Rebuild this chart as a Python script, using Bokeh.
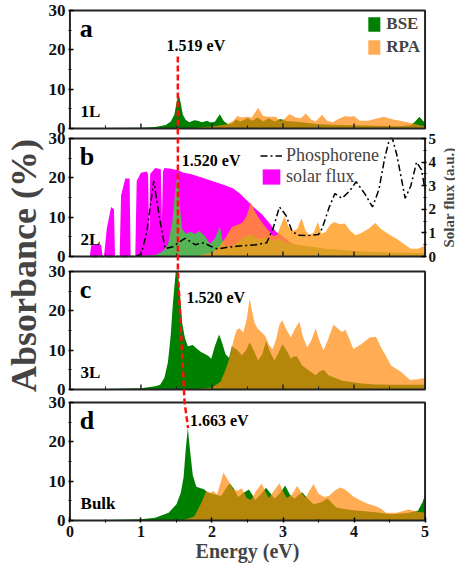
import math
from bokeh.plotting import figure
from bokeh.models import Range1d, LinearAxis, FixedTicker, Legend, LegendItem, Label
from bokeh.embed import file_html
from bokeh.resources import INLINE
from bokeh.core.properties import value

# ---------------- data ----------------
panels = ["a", "b", "c", "d"]
layer_names = ["1L", "2L", "3L", "Bulk"]
peak_energy = [1.519, 1.520, 1.520, 1.663]
peak_labels = ["1.519 eV", "1.520 eV", "1.520 eV", "1.663 eV"]
y_ticks = [0, 10, 20, 30]
y_minor = [5, 15, 25]
x_ticks = [0, 1, 2, 3, 4, 5]
x_minor = [0.5, 1.5, 2.5, 3.5, 4.5]
flux_ticks = [0, 1, 2, 3, 4, 5]
flux_minor = [0.5, 1.5, 2.5, 3.5, 4.5]

# panel a (1L)
bse_a_E = [0, 0.5, 1.0, 1.2, 1.35, 1.42, 1.47, 1.50, 1.53, 1.56, 1.59, 1.63, 1.68, 1.75, 1.8, 1.86, 1.93, 1.98,
           2.04, 2.11, 2.17, 2.23, 2.28, 2.34, 2.4, 2.5, 2.57, 2.64, 2.72, 2.8, 2.88, 2.96, 3.05, 3.15, 3.3, 3.45,
           3.6, 3.8, 4.0, 4.3, 4.6, 4.8, 4.86, 4.92, 4.97, 5.0]
bse_a = [0.1, 0.1, 0.2, 0.4, 0.9, 1.8, 3.5, 6.5, 8.9, 6.5, 3.5, 2.2, 1.6, 2.1, 2.0, 1.6, 2.0, 1.5,
         1.7, 3.6, 1.8, 1.1, 1.3, 2.3, 1.8, 2.6, 2.0, 2.8, 1.8, 2.6, 1.8, 2.4, 1.9, 1.8, 1.5, 1.2,
         1.0, 0.9, 0.8, 0.7, 0.6, 0.8, 1.8, 3.0, 2.0, 1.5]
rpa_a_E = [0, 1.5, 1.8, 2.0, 2.2, 2.3, 2.36, 2.42, 2.5, 2.56, 2.65, 2.72, 2.8, 2.9, 2.96, 3.03, 3.09, 3.18, 3.25,
           3.32, 3.4, 3.46, 3.55, 3.62, 3.7, 3.8, 3.88, 3.95, 4.0, 4.08, 4.2, 4.3, 4.42, 4.55, 4.7, 4.85, 4.92, 5.0]
rpa_a = [0, 0, 0.2, 0.5, 1.0, 2.0, 3.2, 2.8, 3.0, 2.8, 5.3, 3.2, 3.0, 3.0, 1.9, 2.6, 3.7, 2.8, 2.6,
         3.8, 2.2, 1.8, 3.5, 2.0, 1.6, 2.6, 3.2, 3.0, 3.2, 2.0, 2.0, 2.5, 3.0, 2.3, 1.8, 1.2, 0.8, 0.5]

# panel b (2L)
bse_b_E = [0, 1.0, 1.2, 1.3, 1.38, 1.44, 1.48, 1.52, 1.55, 1.58, 1.63, 1.7, 1.76, 1.82, 1.9, 1.97, 2.04, 2.11,
           2.15, 2.2, 2.27, 2.35, 2.45, 2.55, 2.65, 2.75, 2.85, 2.95, 3.05, 3.2, 3.4, 3.6, 3.8, 4.0, 4.5, 5.0]
bse_b = [0, 0.1, 0.4, 1.2, 3.0, 8.5, 16, 22, 12, 7, 5.8, 6.3, 5.7, 6.5, 5.2, 3.2, 4.5, 7.6,
         4.0, 2.3, 2.5, 3.5, 5.0, 5.5, 4.5, 4.8, 4.0, 4.5, 3.5, 3.0, 2.5, 2.0, 1.7, 1.4, 1.0, 0.8]
rpa_b_E = [0, 1.8, 2.0, 2.1, 2.2, 2.28, 2.35, 2.42, 2.48, 2.55, 2.6, 2.66, 2.73, 2.8, 2.86, 2.92, 2.97, 3.02,
           3.08, 3.14, 3.2, 3.26, 3.32, 3.37, 3.43, 3.49, 3.54, 3.6, 3.66, 3.72, 3.8, 3.87, 3.95, 4.02, 4.1,
           4.2, 4.3, 4.38, 4.5, 4.6, 4.7, 4.8, 4.9, 5.0]
rpa_b = [0, 0.1, 1.0, 2.5, 5.0, 7.5, 8.0, 8.5, 10, 13.8, 11.5, 9.8, 8.0, 6.5, 5.2, 5.5, 8.0, 10.2,
         7.5, 6.5, 7.0, 9.7, 6.5, 5.5, 6.0, 8.8, 5.8, 6.2, 8.0, 8.8, 8.2, 8.4, 6.5, 5.4, 6.0,
         7.0, 8.5, 7.0, 5.5, 4.5, 3.2, 2.0, 2.0, 2.8]
flux_E = [0.28, 0.30, 0.44, 0.46, 0.48, 0.52, 0.58, 0.62, 0.635, 0.70, 0.72, 0.78, 0.84, 0.855, 0.92, 0.94,
          1.00, 1.08, 1.10, 1.115, 1.13, 1.20, 1.28, 1.295, 1.31, 1.33, 1.42, 1.52, 1.6, 1.7, 1.8, 1.9,
          2.0, 2.1, 2.2, 2.3, 2.4, 2.5, 2.6, 2.7, 2.8, 2.9, 3.0, 3.1, 3.2, 3.4, 3.7, 4.0, 4.5, 5.0]
flux = [0, 0.48, 0.5, 0, 0, 1.2, 2.1, 2.0, 0, 0, 2.6, 3.3, 3.3, 0, 0, 3.2,
        3.55, 3.6, 3.5, 1.0, 3.5, 3.75, 3.7, 1.5, 3.6, 3.75, 3.72, 3.65, 3.55, 3.5, 3.4, 3.3,
        3.2, 3.1, 3.0, 2.88, 2.65, 2.35, 2.05, 1.8, 1.45, 1.05, 0.85, 0.6, 0.45, 0.3, 0.2, 0.12, 0.08, 0.05]
phos_E = [0.3, 0.9, 1.0, 1.08, 1.18, 1.26, 1.34, 1.45, 1.55, 1.62, 1.7, 1.76, 1.83, 1.89, 1.98, 2.08, 2.2,
          2.35, 2.49, 2.62, 2.77, 2.86, 2.95, 3.04, 3.13, 3.22, 3.35, 3.5, 3.55, 3.65, 3.73, 3.83, 3.93,
          4.03, 4.15, 4.26, 4.35, 4.43, 4.5, 4.54, 4.6, 4.72, 4.8, 4.88, 4.95, 5.0]
phos = [0, 0, 0.5, 6, 19.2, 10, 2, 2.5, 3.8, 4.6, 3.8, 3, 3.3, 3.5, 2.6, 1.9, 2.3,
        2.6, 2.8, 3.0, 3.5, 7.1, 12.6, 10.5, 6.3, 5.4, 5.3, 5.6, 7.1, 12.5, 16, 14.8, 16.5,
        19, 16, 12.6, 17, 24.9, 30, 30, 26, 14.8, 18, 24, 22, 17]

# panel c (3L)
bse_c_E = [0, 0.5, 1.0, 1.2, 1.27, 1.33, 1.38, 1.42, 1.45, 1.49, 1.52, 1.55, 1.58, 1.62, 1.66, 1.73, 1.78,
           1.84, 1.9, 1.95, 1.99, 2.04, 2.1, 2.14, 2.19, 2.24, 2.28, 2.36, 2.42, 2.48, 2.53, 2.6, 2.65, 2.71,
           2.76, 2.82, 2.88, 2.94, 2.99, 3.05, 3.11, 3.15, 3.2, 3.24, 3.27, 3.35, 3.46, 3.51, 3.57, 3.64,
           3.7, 3.84, 4.07, 4.3, 4.6, 5.0]
bse_c = [0.05, 0.1, 0.3, 0.8, 1.2, 3.0, 7.0, 14, 22, 30, 30, 24, 17, 13, 11, 11.3, 10.5,
         9.6, 9.0, 8.5, 7.8, 11, 14, 12, 9.0, 8.0, 11, 10, 8.7, 10, 12, 9.5, 7.4, 9.0,
         12.3, 9.5, 7.4, 9.5, 11.5, 10, 7.8, 8.4, 8.4, 7.0, 6.1, 5.0, 3.6, 4.5, 5.0, 3.6,
         3.2, 2.2, 1.6, 1.3, 1.2, 1.2]
rpa_c_E = [0, 1.8, 2.0, 2.12, 2.18, 2.23, 2.27, 2.31, 2.35, 2.39, 2.44, 2.49, 2.53, 2.57, 2.6, 2.64, 2.7,
           2.75, 2.8, 2.85, 2.9, 2.95, 2.99, 3.04, 3.11, 3.17, 3.23, 3.28, 3.34, 3.4, 3.46, 3.51, 3.57,
           3.63, 3.71, 3.77, 3.83, 3.88, 3.93, 3.99, 4.1, 4.22, 4.31, 4.38, 4.45, 4.52, 4.66, 4.79, 4.9, 5.0]
rpa_c = [0, 0.1, 0.5, 2.0, 4.5, 7.0, 10, 13, 15.2, 15.6, 14.4, 18, 23.1, 19.5, 17, 15.6, 14.5,
         13.6, 11.5, 10.2, 12.5, 16.5, 17.6, 15.5, 13.2, 15.5, 17.3, 13.5, 10.7, 12.5, 15.6, 12.5, 10,
         12.5, 16.5, 15.5, 14.6, 15.2, 13, 10.3, 11.5, 13.2, 13.4, 10.7, 8.5, 6.1, 4.5, 2.4, 2.6, 2.9]

# panel d (Bulk)
bse_d_E = [0, 0.5, 1.0, 1.2, 1.39, 1.5, 1.56, 1.6, 1.63, 1.66, 1.69, 1.73, 1.78, 1.84, 1.88, 1.94, 2.0, 2.07,
           2.13, 2.19, 2.25, 2.31, 2.37, 2.44, 2.52, 2.57, 2.61, 2.68, 2.76, 2.82, 2.88, 2.96, 3.03, 3.1,
           3.16, 3.22, 3.27, 3.35, 3.43, 3.53, 3.63, 3.7, 3.75, 3.9, 4.07, 4.3, 4.53, 4.75, 4.9, 4.96, 5.0]
bse_d = [0.05, 0.1, 0.3, 0.7, 2.0, 4.1, 7.0, 11, 18, 23.5, 18, 11.5, 8.6, 8.2, 8.0, 7.2, 6.8, 6.5,
         6.2, 8.0, 9.5, 8.0, 6.0, 7.0, 7.9, 6.5, 5.2, 6.5, 8.3, 7.0, 5.6, 7.0, 8.9, 6.5,
         5.6, 6.5, 7.2, 5.5, 4.1, 4.6, 5.6, 4.2, 3.3, 2.8, 2.5, 2.1, 1.6, 1.9, 2.5, 4.5, 6.5]
rpa_d_E = [0, 1.6, 1.75, 1.85, 1.92, 1.97, 2.02, 2.07, 2.12, 2.16, 2.22, 2.3, 2.36, 2.42, 2.49, 2.55, 2.62,
           2.7, 2.76, 2.8, 2.87, 2.95, 3.0, 3.05, 3.12, 3.2, 3.26, 3.32, 3.37, 3.43, 3.5, 3.58, 3.65,
           3.72, 3.8, 3.86, 3.9, 4.0, 4.1, 4.2, 4.31, 4.38, 4.45, 4.6, 4.77, 4.9, 5.0]
rpa_d = [0, 0.1, 1.0, 4.5, 7.5, 7.0, 7.5, 6.6, 9.5, 12.2, 10.5, 7.8, 7.6, 8.2, 5.7, 5.2, 7.5,
         9.4, 7.0, 5.7, 7.5, 9.5, 7.5, 5.7, 6.5, 8.8, 7.0, 5.7, 7.5, 9.3, 6.8, 6.0, 6.3,
         7.5, 8.4, 8.0, 7.5, 6.0, 5.0, 4.2, 3.6, 3.0, 2.0, 2.0, 2.8, 2.2, 2.0]

bse_E = {"a": bse_a_E, "b": bse_b_E, "c": bse_c_E, "d": bse_d_E}
bse = {"a": bse_a, "b": bse_b, "c": bse_c, "d": bse_d}
rpa_E = {"a": rpa_a_E, "b": rpa_b_E, "c": rpa_c_E, "d": rpa_d_E}
rpa = {"a": rpa_a, "b": rpa_b, "c": rpa_c, "d": rpa_d}

# ---------------- layout of the stacked panels ----------------
SERIF = "Liberation Serif"
BAND = 118.0                      # height of one panel, in px of the main range
BOTTOM = {"a": 392, "b": 264, "c": 131, "d": 0}
LO, HI = -2, 512
YMAX = 30.0
FMAX = 5.0
FW, FH = 358, 514

p = figure(frame_width=FW, frame_height=FH, min_border_top=8, min_border_right=28,
           min_border_left=66, min_border_bottom=5, output_backend="svg", toolbar_location=None,
           x_range=Range1d(-0.02, 5.02), y_range=Range1d(LO, HI))
p.outline_line_color = None
p.xgrid.visible = False
p.ygrid.visible = False

for k in panels:
    b = BOTTOM[k]
    p.extra_y_ranges[k] = Range1d((LO - b) * YMAX / BAND, (HI - b) * YMAX / BAND)
p.extra_y_ranges["flux"] = Range1d((LO - BOTTOM["b"]) * FMAX / BAND, (HI - BOTTOM["b"]) * FMAX / BAND)

def main_y(k, v):
    return BOTTOM[k] + v * BAND / YMAX

GREEN = "#008000"
ORANGE = "#FF890E"
legend_a = []
legend_b = []
for i, k in enumerate(panels):
    if k == "b":
        rf = p.varea(x=flux_E, y1=0, y2=flux, y_range_name="flux", fill_color="#FF00FF")
        rg = p.varea(x=bse_E[k], y1=0, y2=bse[k], y_range_name=k, fill_color="#56B356")
        ro = p.varea(x=rpa_E[k], y1=0, y2=rpa[k], y_range_name=k, fill_color="#FF9A1A", fill_alpha=0.8)
        rl = p.line(x=phos_E, y=phos, y_range_name=k, line_color="black", line_width=1.5,
                    line_dash="7 3 2 3")
        legend_b = [LegendItem(label="Phosphorene", renderers=[rl]),
                    LegendItem(label="solar flux", renderers=[rf])]
    else:
        rg = p.varea(x=bse_E[k], y1=0, y2=bse[k], y_range_name=k, fill_color=GREEN)
        ro = p.varea(x=rpa_E[k], y1=0, y2=rpa[k], y_range_name=k, fill_color=ORANGE, fill_alpha=0.706)
        if k == "a":
            legend_a = [LegendItem(label="BSE", renderers=[rg]), LegendItem(label="RPA", renderers=[ro])]
    # inner bottom ticks of the upper panels
    if k != "d":
        p.segment(x0=x_ticks, x1=x_ticks, y0=[0] * len(x_ticks), y1=[1.3] * len(x_ticks),
                  y_range_name=k, line_color="#222222", line_width=1.5)
        p.segment(x0=x_minor, x1=x_minor, y0=[0] * len(x_minor), y1=[0.8] * len(x_minor),
                  y_range_name=k, line_color="#222222", line_width=1)
    # panel frame
    p.quad(left=[0], right=[5], bottom=[0], top=[YMAX], y_range_name=k,
           fill_color=None, line_color="#222222", line_width=2)
    # texts
    p.text(x=[0.14], y=[25.3], text=[k], y_range_name=k, text_font=value(SERIF),
           text_font_style="bold", text_font_size="26px", text_baseline="middle", text_align="left")
    p.text(x=[0.15], y=[4.3], text=[layer_names[i]], y_range_name=k, text_font=value(SERIF),
           text_font_style="bold", text_font_size="17px", text_baseline="middle", text_align="left")

# peak labels
peak_lx = [1.36, 1.575, 1.64, 1.69]
peak_ly = [21.0, 24.4, 23.3, 25.5]
for i, k in enumerate(panels):
    p.text(x=[peak_lx[i]], y=[peak_ly[i]], text=[peak_labels[i]], y_range_name=k, text_font=value(SERIF),
           text_font_style="bold", text_font_size="16px", text_baseline="middle", text_align="left")

# red dashed guide through the excitonic peaks
guide_x = [peak_energy[0], peak_energy[0], peak_energy[1], peak_energy[1], 1.52, 1.605, 1.615, peak_energy[3]]
guide_y = [main_y("a", 18.3), main_y("a", 0), main_y("b", YMAX), main_y("b", 0),
           main_y("c", YMAX), main_y("c", 0), main_y("d", YMAX), main_y("d", 23.5)]
p.line(x=guide_x, y=guide_y, line_color="#FF1010", line_width=2.5, line_dash="6 3")

# ---------------- axes ----------------
major = [main_y(k, t) for k in panels for t in y_ticks]
minor = [main_y(k, t) for k in panels for t in y_minor]
p.yaxis.ticker = FixedTicker(ticks=major, minor_ticks=minor)
p.yaxis.major_label_overrides = {main_y(k, t): str(t) for k in panels for t in y_ticks}
p.yaxis.axis_label = "Absorbance (%)"
p.yaxis.axis_label_text_font = SERIF
p.yaxis.axis_label_text_font_style = "bold"
p.yaxis.axis_label_text_font_size = "36px"
p.yaxis.axis_label_standoff = 2

p.xaxis.ticker = FixedTicker(ticks=x_ticks, minor_ticks=x_minor)
p.xaxis.axis_label = "Energy (eV)"
p.xaxis.axis_label_text_font = SERIF
p.xaxis.axis_label_text_font_style = "bold"
p.xaxis.axis_label_text_font_size = "20px"
p.xaxis.axis_label_standoff = 0

rax = LinearAxis(y_range_name="flux", ticker=FixedTicker(ticks=flux_ticks, minor_ticks=flux_minor))
p.add_layout(rax, "right")

for ax in [p.xaxis[0], p.yaxis[0], rax]:
    ax.axis_line_color = None
    ax.major_tick_in = 5
    ax.major_tick_out = 0
    ax.minor_tick_in = 3
    ax.minor_tick_out = 0
    ax.major_tick_line_width = 1.5
    ax.major_label_text_font = SERIF
    ax.major_label_text_font_style = "bold"
    ax.major_label_text_font_size = "17px"
    ax.major_label_text_color = "#111111"
    ax.major_label_standoff = 3
p.xaxis.major_label_text_font_size = "16px"
rax.major_label_text_font_size = "15px"
rax.major_label_standoff = 2

p.add_layout(Label(x=9, x_units="screen", y=main_y("b", 15), y_units="data", angle=math.pi / 2,
                   text="Solar flux (a.u.)", text_align="center", text_baseline="middle",
                   text_font=SERIF, text_font_style="bold", text_font_size="15px"), "right")

# ---------------- legends ----------------
leg1 = Legend(items=legend_a, location="top_right", margin=6, padding=0, spacing=3,
              border_line_color=None, background_fill_alpha=0, glyph_width=15, glyph_height=18,
              label_standoff=5, label_text_font=SERIF, label_text_font_style="bold",
              label_text_font_size="17px")
leg2 = Legend(items=legend_b, location=(192, 335), margin=0, padding=0, spacing=0,
              border_line_color=None, background_fill_alpha=0, glyph_width=22, glyph_height=19,
              label_standoff=4, label_text_font=SERIF, label_text_font_size="18px")
p.add_layout(leg1, "center")
p.add_layout(leg2, "center")

open("out.html", "w").write(file_html(p, INLINE))
